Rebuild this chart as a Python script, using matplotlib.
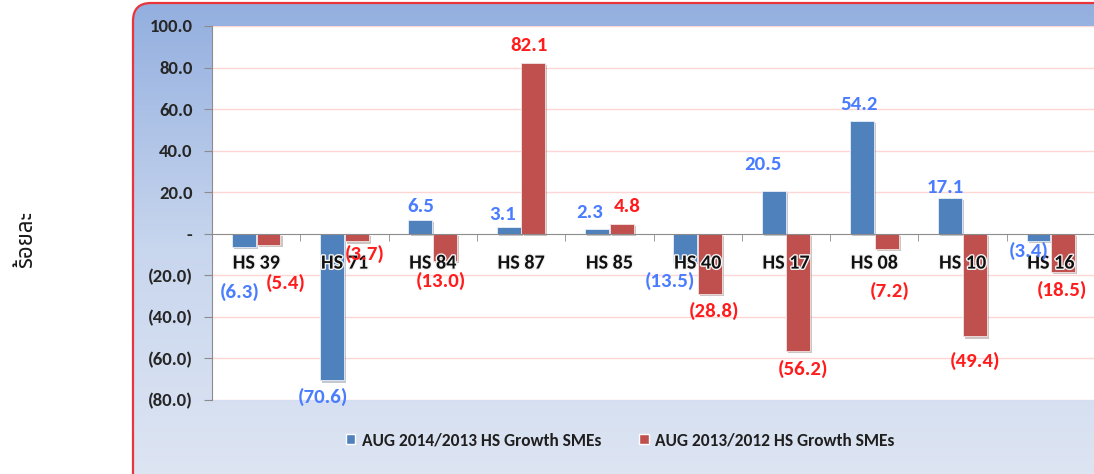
import matplotlib
matplotlib.use('Agg')
import matplotlib.pyplot as plt
import matplotlib.patheffects as pe
from matplotlib import font_manager
from matplotlib.ft2font import FT2Font
from matplotlib.patches import FancyBboxPatch, Patch
from matplotlib.colors import LinearSegmentedColormap
import numpy as np

# данные графика
categories = ['HS 39', 'HS 71', 'HS 84', 'HS 87', 'HS 85', 'HS 40', 'HS 17', 'HS 08', 'HS 10', 'HS 16']
growth_2014 = [-6.3, -70.6, 6.5, 3.1, 2.3, -13.5, 20.5, 54.2, 17.1, -3.4]
growth_2013 = [-5.4, -3.7, -13.0, 82.1, 4.8, -28.8, -56.2, -7.2, -49.4, -18.5]
series_names = ['AUG 2014/2013 HS Growth SMEs', 'AUG 2013/2012 HS Growth SMEs']
y_label = 'ร้อยละ'
y_ticks = [-80, -60, -40, -20, 0, 20, 40, 60, 80, 100]

# сдвиги подписей (пиксели) относительно конца столбца
offs_2014 = [(-4, -45), (-9, -16), (0, 14), (-6, 13), (-7, 16), (-15, -19), (-11, 27), (-3, 17), (-5, 11), (-10, -10)]
offs_2013 = [(17, -38), (8, -12), (-4, -20), (-4, 18), (6, 17), (4, -17), (5, -18), (3, -42), (0, -25), (-1, -18)]

BLUE = '#4f81bd'
RED = '#c0504d'
BLUE_TXT = '#4a7cff'
RED_TXT = '#ff1c1c'


def find_font(ch, prefer=()):
    names = [f.name for f in font_manager.fontManager.ttflist]
    for p in prefer:
        if p in names:
            return p
    for f in font_manager.fontManager.ttflist:
        try:
            if ord(ch) in FT2Font(f.fname).get_charmap():
                return f.name
        except Exception:
            pass
    return 'DejaVu Sans'


base_font = 'Carlito' if 'Carlito' in [f.name for f in font_manager.fontManager.ttflist] else 'Liberation Sans'
thai_font = find_font('ร', prefer=('Noto Sans Thai', 'Loma', 'Garuda', 'Tlwg Typist'))
plt.rcParams['font.family'] = [base_font, 'DejaVu Sans']

W, H = 1094, 474
fig = plt.figure(figsize=(W / 100, H / 100), dpi=100)

# фон-рамка с градиентом
bg = fig.add_axes([0, 0, 1, 1], zorder=0)
bg.set_xlim(0, W)
bg.set_ylim(0, H)
bg.axis('off')
frame = FancyBboxPatch((133, -20), 990, 491, boxstyle='round,pad=0,rounding_size=18',
                       facecolor='none', edgecolor='#e8343a', linewidth=1.6, zorder=3)
grad = np.linspace(0, 1, 256).reshape(-1, 1)
cmap = LinearSegmentedColormap.from_list('bgc', ['#dfe6f3', '#c8d6ee', '#93afdf'])
im = bg.imshow(grad, cmap=cmap, origin='lower', extent=[133, 1123, -20, 471], aspect='auto', zorder=1)
bg.add_patch(frame)
im.set_clip_path(frame)

bg.text(27, H - 240, y_label, rotation=90, ha='center', va='center', fontsize=16,
        fontweight='bold', family=[thai_font, 'DejaVu Sans'], color='#1a1a1a')

# основной график
ax = fig.add_axes([212 / W, (H - 400) / H, 883 / W, 374 / H], zorder=1)
ax.set_facecolor('white')
x = np.arange(len(categories))
bw = 0.27
shadow = [pe.SimplePatchShadow(offset=(1.5, -1.5), alpha=0.25), pe.Normal()]
b1 = ax.bar(x - 0.14, growth_2014, bw, color=BLUE, edgecolor='#e8eef8', linewidth=0.6, zorder=2, path_effects=shadow)
b2 = ax.bar(x + 0.14, growth_2013, bw, color=RED, edgecolor='#f3e4e4', linewidth=0.6, zorder=2, path_effects=shadow)

ax.set_xlim(-0.5, len(categories) - 0.5)
ax.set_ylim(-80, 100)


def fmt(v):
    if v == 0:
        return '-'
    if v < 0:
        return f'({abs(v):.1f})'
    return f'{v:.1f}'


for t in y_ticks:
    if t != 0:
        ax.axhline(t, color='#ffd6d6', linewidth=1.0, zorder=0.5)

ax.set_yticks(y_ticks)
ax.set_yticklabels([fmt(t) for t in y_ticks], fontsize=13.5, fontweight='bold', color='#262626')
ax.tick_params(axis='y', direction='out', length=6, color='#8c8c8c', pad=8)

ax.spines['bottom'].set_position(('data', 0))
ax.spines['bottom'].set_color('#8c8c8c')
ax.spines['bottom'].set_zorder(3)
ax.spines['left'].set_color('#8c8c8c')
ax.spines['top'].set_visible(False)
ax.spines['right'].set_visible(False)

ax.set_xticks(x)
ax.set_xticklabels(categories, fontsize=14.5, fontweight='bold', color='#111111')
ax.set_xticks(np.arange(len(categories) + 1) - 0.5, minor=True)
ax.tick_params(axis='x', which='major', length=0, pad=15)
ax.tick_params(axis='x', which='minor', direction='out', length=5, color='#8c8c8c')
for lbl in ax.get_xticklabels():
    lbl.set_path_effects([pe.withStroke(linewidth=2, foreground='#f4f4f4')])
ax.xaxis.set_zorder(4)

for bars, vals, offs, col in [(b1, growth_2014, offs_2014, BLUE_TXT), (b2, growth_2013, offs_2013, RED_TXT)]:
    for b, v, (dx, dy) in zip(bars, vals, offs):
        ax.annotate(fmt(v), xy=(b.get_x() + b.get_width() / 2, v), xytext=(dx, dy),
                    textcoords='offset pixels', ha='center', va='center',
                    fontsize=15, fontweight='bold', color=col, zorder=5)

handles = [Patch(facecolor=BLUE, edgecolor='white'), Patch(facecolor=RED, edgecolor='white')]
fig.legend(handles, series_names, loc='center', bbox_to_anchor=(620 / W, 1 - 440 / H), ncol=2,
           frameon=False, prop={'size': 12.5, 'weight': 'bold'}, labelcolor='#1f1f1f',
           handlelength=0.55, handleheight=0.55, handletextpad=0.35, columnspacing=2.2)

fig.savefig('out.png', dpi=100)
